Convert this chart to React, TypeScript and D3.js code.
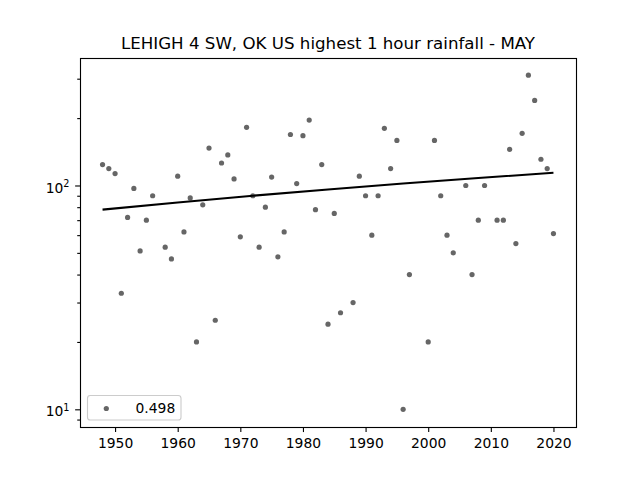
import { useEffect, useRef } from 'react';
import * as d3 from 'd3';

// ─── Data ───────────────────────────────────────────────────

const years = [
  1948, 1949, 1950, 1951, 1952, 1953, 1954, 1955, 1956, 1958, 1959, 1960, 1961, 1962, 1963, 1964,
  1965, 1966, 1967, 1968, 1969, 1970, 1971, 1972, 1973, 1974, 1975, 1976, 1977, 1978, 1979, 1980,
  1981, 1982, 1983, 1984, 1985, 1986, 1988, 1989, 1990, 1991, 1992, 1993, 1994, 1995, 1996, 1997,
  2000, 2001, 2002, 2003, 2004, 2006, 2007, 2008, 2009, 2011, 2012, 2013, 2014, 2015, 2016, 2017,
  2018, 2019, 2020,
];
const rainfall = [
  124, 119, 113, 33, 72, 97, 51, 70, 90, 53, 47, 110, 62, 88, 20, 82,
  147, 25, 126, 137, 107, 59, 182, 90, 53, 80, 109, 48, 62, 169, 102, 167,
  196, 78, 124, 24, 75, 27, 30, 110, 90, 60, 90, 180, 119, 159, 10, 40,
  20, 159, 90, 60, 50, 100, 40, 70, 100, 70, 70, 145, 55, 171, 311, 240,
  131, 119, 61,
];
const trendYears = [1948, 1960, 1972, 1984, 1996, 2008, 2020];
const trendValues = [78, 84, 90, 96, 102, 108, 114];

const xTicks = [1950, 1960, 1970, 1980, 1990, 2000, 2010, 2020];
const yMajorTicks = [10, 100];
const yMinorTicks = [9, 20, 30, 40, 50, 60, 70, 80, 90, 200, 300];

const titleText = 'LEHIGH 4 SW, OK US highest 1 hour rainfall - MAY';
const legendLabel = '0.498';

const xDomain: [number, number] = [1944.4, 2023.6];
const yDomain: [number, number] = [8.32, 372.7];

const FONT = '"DejaVu Sans", sans-serif';

// ─── Component ──────────────────────────────────────────────

export default function App() {
  const svgRef = useRef<SVGSVGElement>(null);

  useEffect(() => {
    if (!svgRef.current) return;
    const svg = d3.select(svgRef.current);
    svg.selectAll('*').remove();

    const width = 640;
    const height = 480;
    const margin = { top: 57.6, right: 64, bottom: 52.8, left: 80 };

    const x = d3.scaleLinear().domain(xDomain).range([margin.left, width - margin.right]);
    const y = d3.scaleLog().domain(yDomain).range([height - margin.bottom, margin.top]);

    // Title
    svg.append('text')
      .attr('x', (margin.left + width - margin.right) / 2)
      .attr('y', 48.5)
      .attr('text-anchor', 'middle')
      .attr('font-family', FONT)
      .attr('font-size', '16.67px')
      .attr('fill', '#000')
      .text(titleText);

    // Points
    svg.append('g').selectAll('circle')
      .data(years)
      .join('circle')
      .attr('cx', (d) => x(d))
      .attr('cy', (_, i) => y(rainfall[i]))
      .attr('r', 2.6)
      .attr('fill', '#000')
      .attr('fill-opacity', 0.6);

    // Trend line
    const line = d3.line<number>()
      .x((d) => x(d))
      .y((_, i) => y(trendValues[i]));
    svg.append('path')
      .attr('d', line(trendYears))
      .attr('fill', 'none')
      .attr('stroke', '#000')
      .attr('stroke-width', 2.08);

    // Axes
    const xAxis = svg.append('g')
      .attr('transform', `translate(0,${height - margin.bottom})`)
      .call(d3.axisBottom(x).tickValues(xTicks).tickFormat(d3.format('d')).tickSize(4.86).tickPadding(6).tickSizeOuter(0));
    xAxis.selectAll('text').attr('font-family', FONT).attr('font-size', '13.89px').attr('fill', '#000');

    const yMinor = svg.append('g')
      .attr('transform', `translate(${margin.left},0)`)
      .call(d3.axisLeft(y).tickValues(yMinorTicks).tickFormat(() => '').tickSize(2.78).tickSizeOuter(0));

    const yMajor = svg.append('g')
      .attr('transform', `translate(${margin.left},0)`)
      .call(d3.axisLeft(y).tickValues(yMajorTicks).tickFormat(() => '').tickSize(4.86).tickSizeOuter(0));

    yMajor.selectAll<SVGGElement, number>('.tick').each(function (d) {
      const label = d3.select(this).select('text')
        .attr('x', -10.5)
        .attr('dy', '0.48em')
        .attr('text-anchor', 'end')
        .attr('font-family', FONT)
        .attr('font-size', '13.89px')
        .attr('fill', '#000');
      label.append('tspan').text('10');
      label.append('tspan')
        .attr('dy', '-0.6em')
        .attr('font-size', '9.7px')
        .text(String(Math.round(Math.log10(d))));
    });

    for (const sel of [xAxis, yMinor, yMajor]) {
      sel.select('.domain').remove();
      sel.selectAll('line').attr('stroke', '#000').attr('stroke-width', 1.11);
    }

    // Frame, snapped to the pixel grid
    svg.append('rect')
      .attr('x', 80.5)
      .attr('y', 58.5)
      .attr('width', 496)
      .attr('height', 369)
      .attr('fill', 'none')
      .attr('stroke', '#000')
      .attr('stroke-width', 1.11);

    // Legend
    const legend = svg.append('g');
    legend.append('rect')
      .attr('x', 87.5).attr('y', 395.5)
      .attr('width', 93.5).attr('height', 24.5)
      .attr('rx', 2.8)
      .attr('fill', '#fff')
      .attr('fill-opacity', 0.8)
      .attr('stroke', '#ccc')
      .attr('stroke-width', 1.11);
    legend.append('circle')
      .attr('cx', 106.3).attr('cy', 408.5)
      .attr('r', 2.6)
      .attr('fill', '#000')
      .attr('fill-opacity', 0.6);
    legend.append('text')
      .attr('x', 135.5).attr('y', 412.8)
      .attr('font-family', FONT)
      .attr('font-size', '13.89px')
      .attr('fill', '#000')
      .text(legendLabel);
  }, []);

  return (
    <svg
      ref={svgRef}
      width={640}
      height={480}
      style={{ position: 'absolute', left: 0, top: 0, background: '#fff' }}
    />
  );
}
